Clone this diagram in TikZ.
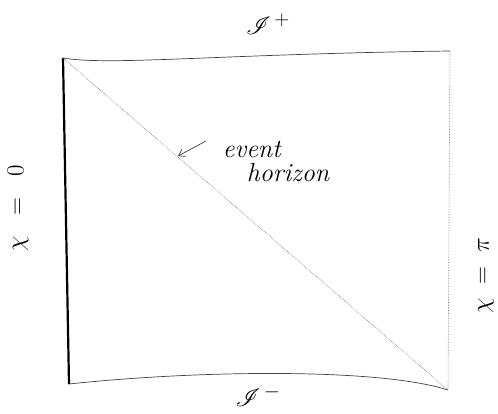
\documentclass[tikz,border=0pt]{standalone}
\usepackage{mathrsfs}
\usetikzlibrary{arrows.meta}
\begin{document}
\begin{tikzpicture}[x=1pt,y=1pt,
  edge/.style={draw=black!75,line width=0.7pt},
  faint/.style={draw=black!55,line width=0.6pt,densely dotted},
  bold/.style={draw=black,line width=2.2pt},
  hand/.style={font=\fontsize{26}{30}\selectfont},
  scri/.style={font=\fontsize{30}{36}\selectfont}]
\useasboundingbox (0,0) rectangle (498,-413);
\coordinate (TL) at (63,-58);
\coordinate (BL) at (69,-384);
\coordinate (BR) at (448,-390);
\coordinate (TR) at (450,-51);
% edges
\draw[bold] (TL) -- (BL);
\draw[edge] (TL) .. controls (110,-66) and (220,-54) .. (TR);
\draw[edge] (BL) .. controls (200,-370) and (380,-368) .. (BR);
\draw[faint] (TR) -- (BR);
\draw[faint] (TL) -- (BR);
% labels
\node[scri] (scrip) at (268,-24) {$\mathscr{I}^{\,+}$};
\node[scri] (scrim) at (258,-396) {$\mathscr{I}^{\,-}$};
\node[hand,rotate=90] (chi0) at (18,-208) {$\chi\;\;=\;\;0$};
\node[hand,rotate=90] (chipi) at (486,-276) {$\chi\;=\;\pi$};
\node[hand,align=left,inner sep=0pt] (eh) at (276,-161) {\itshape event\\[-6pt]\hspace{24pt}\itshape horizon};
\coordinate (arrs) at (206,-141);
\coordinate (arre) at (178,-156);
\draw[edge,-{Straight Barb[length=6pt,width=8pt]}] (arrs) -- (arre);
\end{tikzpicture}
\end{document}
